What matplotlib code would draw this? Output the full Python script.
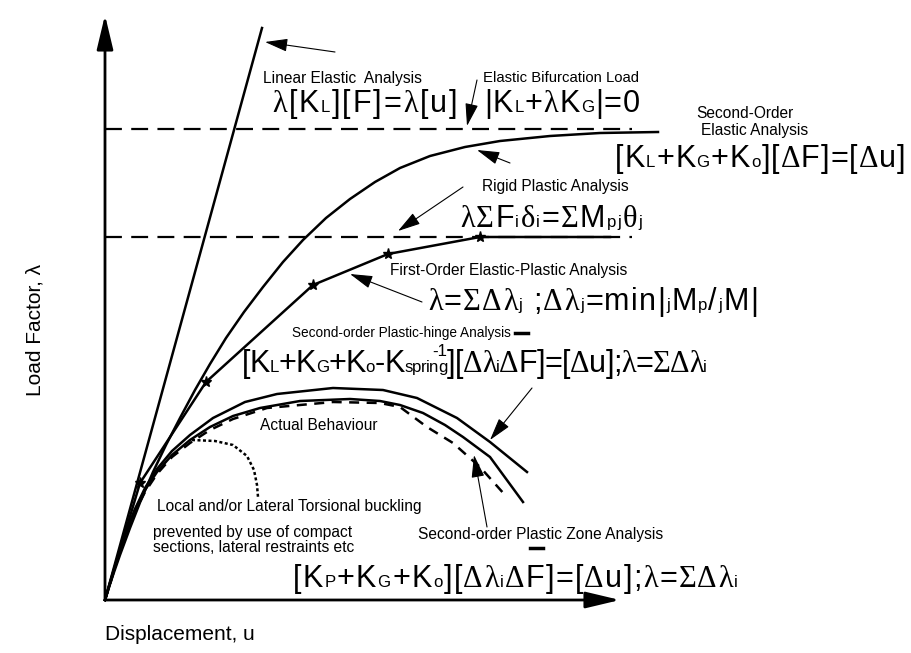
import matplotlib
matplotlib.use('Agg')
import matplotlib.pyplot as plt
from matplotlib.font_manager import FontProperties
from matplotlib.transforms import offset_copy

plt.rcParams['font.family'] = ['Liberation Sans', 'DejaVu Sans']

# load-displacement paths: displacement u, load factor lambda (schematic units)
linear_u = [0, 157]
linear_lam = [0, 572]

soe_u = [0, 7, 15, 25, 36, 48, 61, 75, 90, 105, 121, 139, 158, 178, 198, 221,
         245, 270, 295, 325, 360, 395, 445, 495, 553]
soe_lam = [0, 22, 45, 72, 100, 128, 155, 182, 210, 236, 262, 288, 313, 338,
           360, 382, 401, 418, 432, 444, 453, 459, 464, 467, 468]

# first-order elastic-plastic, hinges at the interior points
ep_u = [0, 35, 101, 208, 283, 375, 505]
ep_lam = [0, 117, 218, 315, 346, 363, 363]

hinge_u = [0, 6, 13, 21, 30, 40, 52, 67, 85, 108, 140, 172, 228, 278, 312,
           352, 385, 422]
hinge_lam = [0, 21, 44, 68, 91, 112, 131, 149, 165, 182, 198, 206, 212, 210,
             202, 182, 158, 128]

actual_u = [0, 6, 13, 21, 30, 40, 52, 67, 85, 105, 128, 155, 195, 245, 275,
            295, 318, 340, 358, 385, 418]
actual_lam = [0, 20, 43, 67, 90, 110, 128, 145, 160, 173, 184, 192, 199, 201,
              199, 195, 187, 175, 163, 143, 98]

zone_u = [0, 6, 13, 21, 30, 40, 52, 67, 85, 105, 128, 162, 228, 275, 295,
          322, 348, 375, 400]
zone_lam = [0, 19, 42, 65, 88, 108, 126, 143, 157, 170, 181, 192, 198, 197,
            193, 173, 157, 133, 105]

buckle_u = [87, 110, 128, 142, 149, 152, 153]
buckle_lam = [160, 159, 155, 144, 130, 115, 103]

elastic_limit = 471   # elastic bifurcation load
plastic_limit = 363   # rigid plastic collapse load
limit_u_end = 527

fig = plt.figure(figsize=(9.12, 6.53), dpi=100)
ax = fig.add_axes([0, 0, 1, 1])
ax.set_xlim(-105, 807)
ax.set_ylim(-53, 600)
ax.axis('off')
renderer = fig.canvas.get_renderer()

lw = 1.8
ax.plot(linear_u, linear_lam, color='black', lw=lw)
ax.plot(soe_u, soe_lam, color='black', lw=lw)
ax.plot(ep_u, ep_lam, color='black', lw=lw, marker='*', markersize=8,
        markevery=[1, 2, 3, 4, 5])
ax.plot(hinge_u, hinge_lam, color='black', lw=lw)
ax.plot(actual_u, actual_lam, color='black', lw=lw)
ax.plot(zone_u, zone_lam, color='black', lw=lw, linestyle=(0, (4, 3)))
ax.plot(buckle_u, buckle_lam, color='black', lw=lw, linestyle=(0, (1.2, 1)))

for lam in (elastic_limit, plastic_limit):
    ax.plot([0, limit_u_end], [lam, lam], color='black', lw=1.6,
            linestyle=(0, (7.6, 4.2)))

# axes with arrow heads
axis_style = dict(arrowstyle='-|>,head_length=1.05,head_width=0.25',
                  mutation_scale=20, lw=2, color='black',
                  shrinkA=0, shrinkB=0)
ax.annotate('', xy=(0, 585), xytext=(0, 0), arrowprops=axis_style)
ax.annotate('', xy=(515, 0), xytext=(0, 0), arrowprops=axis_style)

ax.text(-70, 270, 'Load Factor, λ', rotation=90, ha='center', va='center',
        fontsize=15)
ax.text(0, -35, 'Displacement, u', ha='left', va='center', fontsize=15)

# pointer arrows (tail, tip)
pointers = [
    ((230, 548), (160, 558)),
    ((372, 520), (362, 474)),
    ((405, 437), (372, 450)),
    ((358, 413), (293, 369)),
    ((317, 298), (245, 326)),
    ((427, 212), (385, 160)),
    ((382, 73), (369, 145)),
]
ptr_style = dict(arrowstyle='-|>,head_length=0.7,head_width=0.2',
                 mutation_scale=20, lw=0.8, color='black',
                 shrinkA=0, shrinkB=0)
for tail, tip in pointers:
    ax.annotate('', xy=tip, xytext=tail, arrowprops=ptr_style)


GREEK = set('λΣΔδθ')


def parse(src):
    # split "K_{L}+K_{spring}^{-1}" into (text, kind) pieces
    pieces, buf, i = [], '', 0
    while i < len(src):
        c = src[i]
        if c in '_^' and i + 1 < len(src) and src[i + 1] == '{':
            j = src.index('}', i)
            if buf:
                pieces.append((buf, 'n'))
                buf = ''
            pieces.append((src[i + 2:j], 'sub' if c == '_' else 'sup'))
            i = j + 1
        else:
            buf += c
            i += 1
    if buf:
        pieces.append((buf, 'n'))
    return pieces


def advance(ch, prop):
    # advance width in pixels, side bearings included
    w, _, _ = renderer.get_text_width_height_descent('|' + ch + '|', prop, False)
    w0, _, _ = renderer.get_text_width_height_descent('||', prop, False)
    return w - w0


def formula(x, y, src, size=22, track=1.3):
    # draws the formula char by char; track is extra spacing in pixels
    cursor = 0.0
    px = fig.dpi / 72
    for text, kind in parse(src):
        fs = size if kind == 'n' else size * 0.55
        if kind == 'sup':
            prop = FontProperties(family='Liberation Sans', size=fs)
            tr = offset_copy(ax.transData, x=cursor,
                             y=0.52 * size * px, units='dots')
            ax.text(x, y, text, fontproperties=prop, va='baseline',
                    ha='right', transform=tr)
            continue
        for ch in text:
            family = 'Liberation Serif' if ch in GREEK else 'Liberation Sans'
            prop = FontProperties(family=family, size=fs)
            tr = offset_copy(ax.transData, x=cursor, y=0, units='dots')
            ax.text(x, y, ch, fontproperties=prop, va='baseline',
                    ha='left', transform=tr)
            cursor += advance(ch, prop) + track


small = 11.2

ax.text(158, 522, 'Linear Elastic  Analysis', fontsize=small, va='center')
formula(167, 488, 'λ[K_{L}][F]=λ[u]', track=1.8)

ax.text(378, 522, 'Elastic Bifurcation Load', fontsize=10.7, va='center')
formula(379, 488, '|K_{L}+λK_{G}|=0', track=1.0)

ax.text(640, 487, 'Second-Order', fontsize=small, ha='center', va='center')
ax.text(650, 470, 'Elastic Analysis', fontsize=small, ha='center', va='center')
formula(510, 433, '[K_{L}+K_{G}+K_{o}][ΔF]=[Δu]', track=1.05)

ax.text(377, 414, 'Rigid Plastic Analysis', fontsize=small, va='center')
formula(355, 373, 'λΣF_{i}δ_{i}=ΣM_{pj}θ_{j}', track=1.4)

ax.text(285, 330, 'First-Order Elastic-Plastic Analysis', fontsize=small,
        va='center')
formula(323, 290, 'λ=ΣΔλ_{j} ;Δλ_{j}=min|_{j}M_{p}/_{j}M|', track=1.25)

ax.text(187, 267, 'Second-order Plastic-hinge Analysis', fontsize=9.8,
        va='center')
ax.plot([410, 423], [267, 267], color='black', lw=2.5)
formula(137, 228, '[K_{L}+K_{G}+K_{o}-K_{spring}^{-1}][Δλ_{i}ΔF]=[Δu];λ=ΣΔλ_{i}',
        track=-0.5)

ax.text(155, 174, 'Actual Behaviour', fontsize=small, va='center')
ax.text(52, 93, 'Local and/or Lateral Torsional buckling', fontsize=small,
        va='center')
ax.text(48, 68, 'prevented by use of compact', fontsize=small, va='center')
ax.text(48, 52, 'sections, lateral restraints etc', fontsize=small,
        va='center')

ax.text(313, 66, 'Second-order Plastic Zone Analysis', fontsize=small,
        va='center')
ax.plot([425, 438], [52, 52], color='black', lw=2.5)
formula(188, 13, '[K_{P}+K_{G}+K_{o}][Δλ_{i}ΔF]=[Δu];λ=ΣΔλ_{i}', track=1.3)

fig.savefig('out.png', dpi=100)
